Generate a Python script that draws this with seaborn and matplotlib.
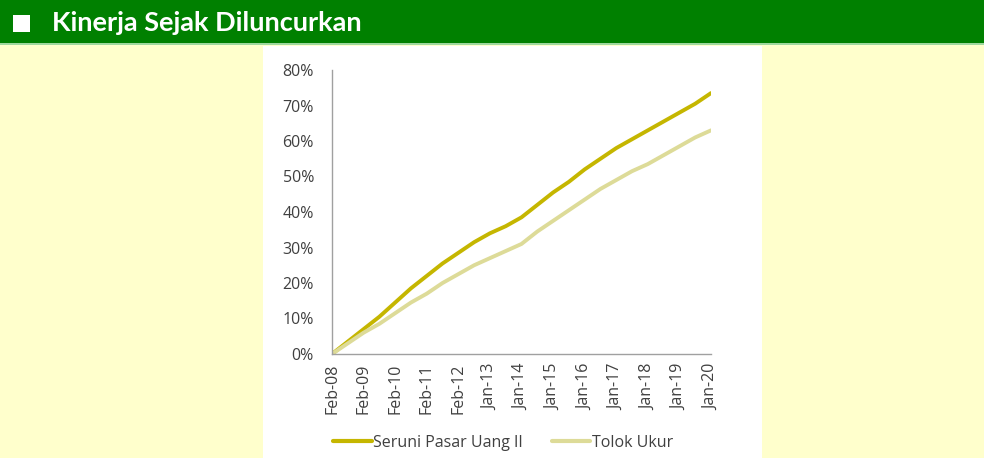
import numpy as np
import pandas as pd
import matplotlib
matplotlib.use("Agg")
import matplotlib.pyplot as plt
from matplotlib.patches import Rectangle
from matplotlib.lines import Line2D
import seaborn as sns

# ---- data ----
tick_labels = ["Feb-08", "Feb-09", "Feb-10", "Feb-11", "Feb-12", "Jan-13", "Jan-14",
               "Jan-15", "Jan-16", "Jan-17", "Jan-18", "Jan-19", "Jan-20"]
x_pos = [0, 0.5, 1, 1.5, 2, 2.5, 3, 3.5, 4, 4.5, 5, 5.5, 6, 6.5, 7, 7.5, 8, 8.5,
         9, 9.5, 10, 10.5, 11, 11.5, 12]
seruni = [0, 3.5, 7, 10.5, 14.5, 18.5, 22, 25.5, 28.5, 31.5, 34, 36, 38.5, 42,
          45.5, 48.5, 52, 55, 58, 60.5, 63, 65.5, 68, 70.5, 73.5]
tolok = [0, 3, 6, 8.5, 11.5, 14.5, 17, 20, 22.5, 25, 27, 29, 31, 34.5, 37.5,
         40.5, 43.5, 46.5, 49, 51.5, 53.5, 56, 58.5, 61, 63]
series_names = ["Seruni Pasar Uang II", "Tolok Ukur"]
colors = ["#C5B600", "#DDDB98"]
y_ticks = [0, 10, 20, 30, 40, 50, 60, 70, 80]

df = pd.concat([
    pd.DataFrame({"x": x_pos, "y": seruni, "Seri": series_names[0]}),
    pd.DataFrame({"x": x_pos, "y": tolok, "Seri": series_names[1]}),
])

sns.set_theme(style="white")
plt.rcParams["font.family"] = ["Open Sans", "DejaVu Sans"]

W, H = 984, 458
fig = plt.figure(figsize=(W / 100, H / 100), dpi=100)
fig.patch.set_facecolor("#FFFFCC")

# header bar
fig.patches.append(Rectangle((0, 1 - 44 / H), 1, 44 / H, transform=fig.transFigure,
                             facecolor="#008000", edgecolor="none", zorder=-5))
fig.patches.append(Rectangle((0, 1 - 45 / H), 1, 1.5 / H, transform=fig.transFigure,
                             facecolor="#9FD89F", edgecolor="none", zorder=-5))
fig.patches.append(Rectangle((13 / W, 1 - 32 / H), 17 / W, 17 / H, transform=fig.transFigure,
                             facecolor="white", edgecolor="none", zorder=-4))
fig.text(52 / W, 1 - 23 / H, "Kinerja Sejak Diluncurkan", color="white",
         fontsize=19.5, fontweight="bold", va="center", ha="left",
         family=["Lato", "DejaVu Sans"])
# white panel
fig.patches.append(Rectangle((263 / W, 0), (762 - 263) / W, (H - 45.5) / H,
                             transform=fig.transFigure, facecolor="white",
                             edgecolor="none", zorder=-5))

ax = fig.add_axes([332 / W, 1 - 354 / H, (711 - 332) / W, (354 - 70) / H])
ax.set_zorder(5)
ax.set_facecolor("none")
sns.lineplot(data=df, x="x", y="y", hue="Seri", palette=colors, ax=ax,
             linewidth=2.8, legend=False)

ax.set_xlim(0, 12)
ax.set_ylim(0, 80)
ax.set_xticks(range(len(tick_labels)))
ax.set_xticklabels(tick_labels, rotation=90, fontsize=11.5, color="#404040")
ax.set_yticks(y_ticks)
ax.set_yticklabels([f"{v}%" for v in y_ticks], fontsize=11.5, color="#404040")
ax.tick_params(axis="y", length=0, pad=13)
ax.tick_params(axis="x", length=0, pad=7)
ax.set_xlabel("")
ax.set_ylabel("")
for s in ["top", "right"]:
    ax.spines[s].set_visible(False)
for s in ["left", "bottom"]:
    ax.spines[s].set_color("#A0A0A0")
    ax.spines[s].set_linewidth(1.0)

handles = [Line2D([], [], color=c, lw=3) for c in colors]
fig.legend(handles, series_names, loc="center", bbox_to_anchor=(503 / W, 1 - 443 / H),
           ncol=2, frameon=False, fontsize=11.5, handlelength=2.4, handletextpad=0.1,
           columnspacing=1.8, labelcolor="#404040")

fig.savefig("out.png", dpi=100, facecolor=fig.get_facecolor())
